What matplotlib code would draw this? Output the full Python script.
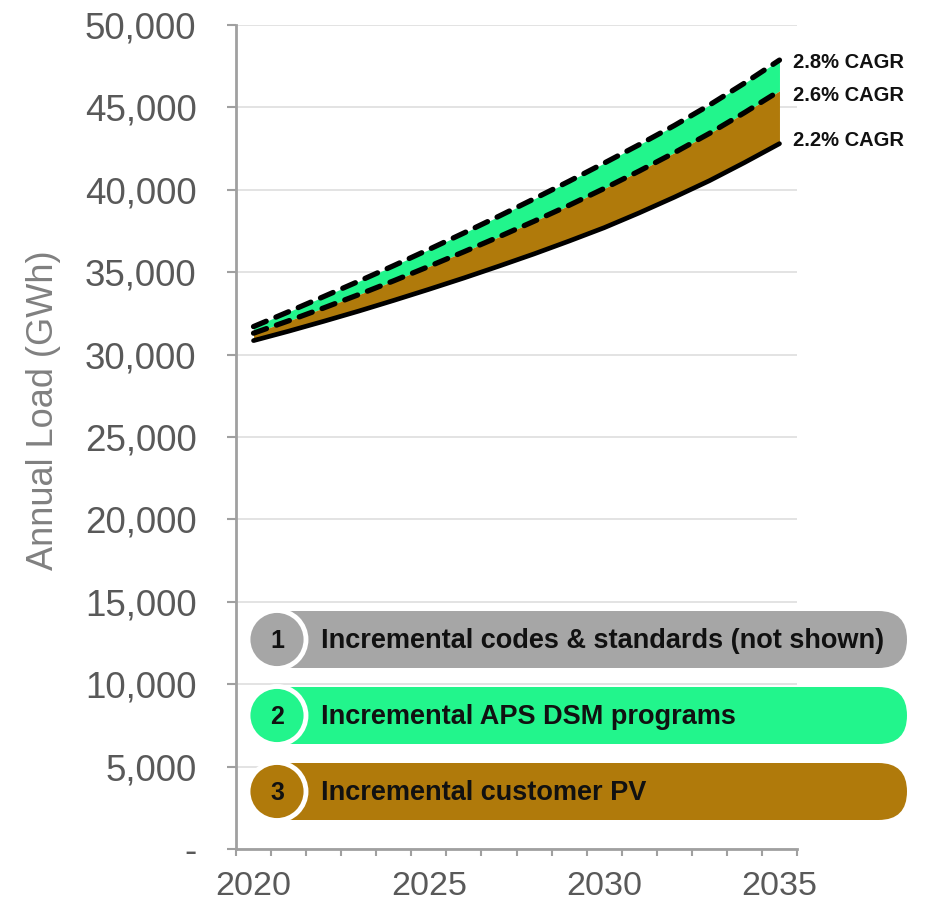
import matplotlib
matplotlib.use("Agg")
import matplotlib.pyplot as plt
from matplotlib.patches import FancyBboxPatch, Circle
from matplotlib.ticker import FuncFormatter

# Annual load forecast (GWh), 2020-2035
years = list(range(2020, 2036))
load_before_dsm = [31700, 32600, 33520, 34450, 35400, 36380, 37380, 38400,
                   39450, 40520, 41620, 42740, 43900, 45140, 46470, 47870]
load_after_dsm = [31300, 32050, 32830, 33640, 34480, 35350, 36240, 37150,
                  38090, 39060, 40080, 41140, 42250, 43420, 44680, 46000]
load_after_pv = [30850, 31420, 32020, 32640, 33290, 33960, 34650, 35370,
                 36110, 36890, 37700, 38600, 39550, 40550, 41650, 42800]
cagr_labels = ["2.8% CAGR", "2.6% CAGR", "2.2% CAGR"]

legend_numbers = ["1", "2", "3"]
legend_texts = ["Incremental codes & standards (not shown)",
                "Incremental APS DSM programs",
                "Incremental customer PV"]

GREEN = "#22F58C"
BROWN = "#B07A0B"
GRAY = "#A6A6A6"
AXIS_GRAY = "#A0A0A0"
TICK_TEXT = "#595959"

plt.rcParams["font.family"] = ["Liberation Sans", "DejaVu Sans"]

W, H = 927, 908
fig = plt.figure(figsize=(W / 100, H / 100), dpi=100)
ax = fig.add_axes([236 / W, 1 - 849 / H, (797 - 236) / W, (849 - 25) / H])

# Stacked wedges between the three forecasts
ax.fill_between(years, load_after_dsm, load_before_dsm, color=GREEN, lw=0, zorder=2)
ax.fill_between(years, load_after_pv, load_after_dsm, color=BROWN, lw=0, zorder=2)

dash = (0, (2.6, 2.0))
ax.plot(years, load_before_dsm, color="black", lw=3.8, ls=dash, dash_capstyle="round", zorder=3)
ax.plot(years, load_after_dsm, color="black", lw=3.8, ls=dash, dash_capstyle="round", zorder=3)
ax.plot(years, load_after_pv, color="black", lw=3.4, zorder=3, solid_capstyle="round")

# CAGR annotations at the right end of each line
ends = [load_before_dsm[-1], load_after_dsm[-1], load_after_pv[-1]]
offsets = [-1.5, -3, 2]
for label, val, dy in zip(cagr_labels, ends, offsets):
    ax.annotate(label, xy=(years[-1], val), xytext=(10, dy), textcoords="offset points",
                fontsize=14.5, fontweight="bold", color="#111111",
                va="center", ha="left", annotation_clip=False)

# Axes
ax.set_xlim(2019.5, 2035.5)
ax.set_ylim(0, 50000)
ax.set_yticks(range(0, 50001, 5000))
ax.yaxis.set_major_formatter(FuncFormatter(lambda v, p: "-" if v == 0 else f"{int(v):,}"))
ax.set_xticks([2020, 2025, 2030, 2035])
ax.set_xticks([y - 0.5 for y in years] + [2035.5], minor=True)
ax.tick_params(axis="x", which="major", length=0, pad=16, labelsize=24.5, labelcolor=TICK_TEXT)
ax.tick_params(axis="x", which="minor", length=5, width=1.5, color=AXIS_GRAY, direction="out")
ax.tick_params(axis="y", which="major", length=6.5, width=1.5, color=AXIS_GRAY,
               direction="out", pad=22, labelsize=26.5, labelcolor=TICK_TEXT)

ax.grid(axis="y", color="#E3E3E3", lw=1.4, zorder=0)
ax.set_axisbelow(True)
for side in ("top", "right"):
    ax.spines[side].set_visible(False)
for side in ("left", "bottom"):
    ax.spines[side].set_color(AXIS_GRAY)
    ax.spines[side].set_linewidth(2)

ax.set_ylabel("Annual Load (GWh)", fontsize=26, color="#808080")
ax.yaxis.set_label_coords(-0.312, 0.532)

# Numbered legend pills drawn in a pixel-space overlay
ov = fig.add_axes([0, 0, 1, 1], zorder=5)
ov.set_xlim(0, W)
ov.set_ylim(H, 0)
ov.axis("off")

pill_colors = [GRAY, GREEN, BROWN]
pill_tops = [611, 687, 763]
pill_h = 57
for num, text, col, top in zip(legend_numbers, legend_texts, pill_colors, pill_tops):
    bar = FancyBboxPatch((262, top), 907 - 262, pill_h,
                         boxstyle=f"round,pad=0,rounding_size={pill_h / 2}",
                         facecolor=col, edgecolor="none")
    ov.add_patch(bar)
    cy = top + pill_h / 2
    ov.add_patch(Circle((277, cy), 29, facecolor=col, edgecolor="white", lw=3.5))
    ov.text(277, cy + 1, num, fontsize=18, fontweight="bold", color="#111111",
            ha="center", va="center")
    ov.text(321, cy + 1, text, fontsize=19.5, fontweight="bold", color="#111111",
            ha="left", va="center")

fig.savefig("out.png", dpi=100)
